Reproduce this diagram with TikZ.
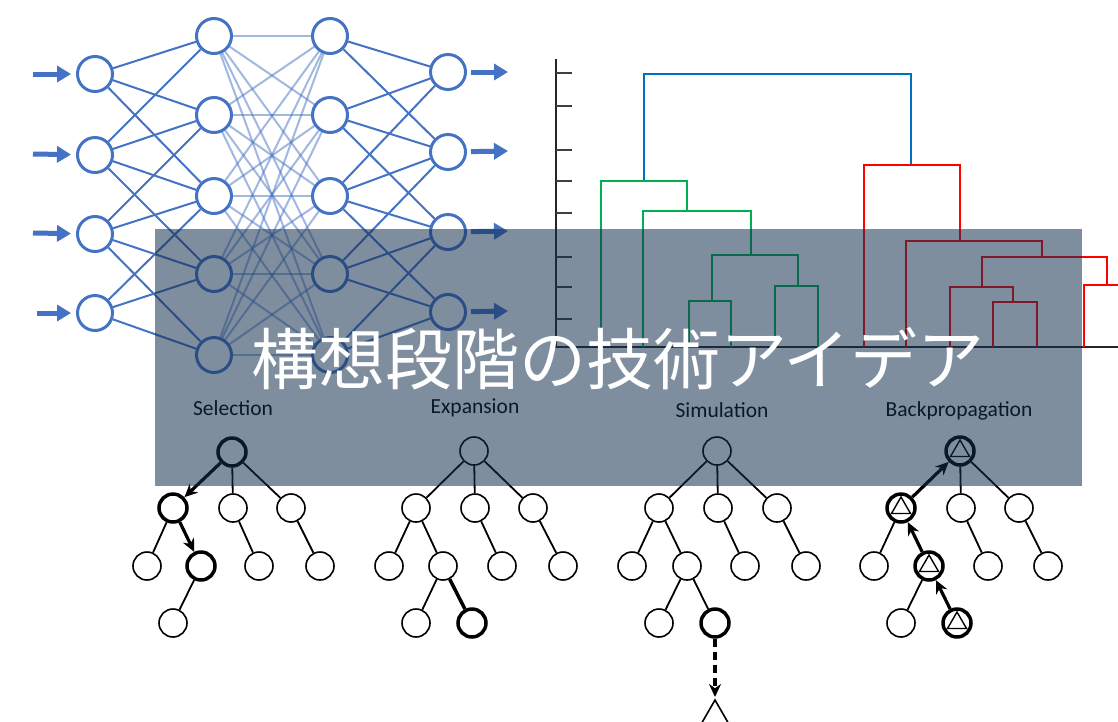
\documentclass[tikz,border=0pt]{standalone}
\usepackage{fontspec}
\setmainfont{Carlito}
\newfontfamily\cjk{Noto Sans CJK JP}
\usetikzlibrary{arrows.meta,shapes.geometric}
\definecolor{nnblue}{RGB}{68,114,196}
\definecolor{dblue}{RGB}{0,112,192}
\definecolor{dgreen}{RGB}{0,176,80}
\definecolor{dred}{RGB}{255,0,0}
\definecolor{ovl}{RGB}{19,47,78}
\tikzset{
  nn/.style={circle,draw=nnblue,line width=3pt,fill=white,minimum size=35pt,inner sep=0pt},
  nnedge/.style={draw=nnblue,line width=2pt},
  nnlight/.style={draw=nnblue,draw opacity=0.5,line width=2pt},
  ioarrow/.style={draw=nnblue,line width=5pt,-{Triangle[length=14pt,width=16pt]}},
  dline/.style={line width=2pt,line join=miter},
  tnode/.style={circle,draw=black,line width=1.6pt,fill=white,minimum size=28pt,inner sep=0pt},
  tbold/.style={tnode,line width=3.5pt},
  tedge/.style={draw=black,line width=1.8pt},
  tboldedge/.style={draw=black,line width=3.5pt},
  tarrow/.style={draw=black,line width=3.2pt,-{Stealth[length=13pt,width=12pt]}},
  tri/.style={regular polygon,regular polygon sides=3,draw=black,line width=1.4pt,minimum size=22pt,inner sep=0pt},
  lab/.style={font=\fontsize{21.5}{26}\selectfont,anchor=base,text=black},
}
\begin{document}
\begin{tikzpicture}[x=1pt,y=-1pt]
\useasboundingbox (0,0) rectangle (1118,721);
\clip (0,0) rectangle (1118,721);
\fill[white] (0,0) rectangle (1118,721);

% ---------------- neural network ----------------
\foreach \k/\y in {1/74,2/155,3/234,4/313} \node[nn] (i\k) at (95,\y) {};
\foreach \k/\y in {1/36,2/115,3/196,4/274,5/355} \node[nn] (h\k) at (214,\y) {};
\foreach \k/\y in {1/36,2/115,3/196,4/274,5/355} \node[nn] (g\k) at (330,\y) {};
\foreach \k/\y in {1/72,2/152,3/232,4/312} \node[nn] (o\k) at (448,\y) {};

\foreach \a/\b in {1/1,1/2,1/3,2/1,2/2,2/3,2/4,3/2,3/3,3/4,3/5,4/3,4/4,4/5}
  \draw[nnedge] (i\a) -- (h\b);
\foreach \a in {1,...,5}
  \foreach \b in {1,...,5}
    \draw[nnlight] (h\a) -- (g\b);
\foreach \a/\b in {1/1,1/2,1/3,2/1,2/2,2/3,2/4,3/2,3/3,3/4,3/5,4/3,4/4,4/5}
  \draw[nnedge] (o\a) -- (g\b);

\foreach \k/\y/\x in {1/74/33,2/154/33,3/233/33,4/313/37} {
  \coordinate (ia\k) at (\x,\y);
  \draw[ioarrow,shorten >=5pt] (ia\k) -- (i\k);
}
\foreach \k/\y in {1/72,2/151,3/231,4/311} {
  \coordinate (oa\k) at (508,\y);
  \draw[ioarrow,shorten <=4pt] (o\k) -- (oa\k);
}

% ---------------- dendrogram ----------------
\draw[black!85,line width=1.6pt] (556,59) -- (556,347) -- (1118,347);
\foreach \y in {73,106,150,181,213,257,287,319}
  \draw[black!75,line width=2pt] (556,\y) -- (572,\y);
\draw[dline,dblue] (644,181) -- (644,74) -- (911,74) -- (911,165);
\draw[dline,dgreen] (601,347) -- (601,181) -- (687,181) -- (687,211);
\draw[dline,dgreen] (643,347) -- (643,211) -- (751,211) -- (751,255);
\draw[dline,dgreen] (712,301) -- (712,255) -- (798,255) -- (798,286);
\draw[dline,dgreen] (689,347) -- (689,301) -- (731,301) -- (731,347);
\draw[dline,dgreen] (775,347) -- (775,286) -- (818,286) -- (818,347);
\draw[dline,dred] (864,347) -- (864,165) -- (960,165) -- (960,241);
\draw[dline,dred] (906,347) -- (906,241) -- (1042,241) -- (1042,257);
\draw[dline,dred] (982,287) -- (982,257) -- (1107,257) -- (1107,285);
\draw[dline,dred] (950,347) -- (950,287) -- (1013,287) -- (1013,302);
\draw[dline,dred] (993,347) -- (993,302) -- (1037,302) -- (1037,347);
\draw[dline,dred] (1084,347) -- (1084,285) -- (1125,285);

% ---------------- MCTS: Selection ----------------
\node[lab] (lsel) at (233,415) {Selection};
\node[tbold] (s0) at (232,452) {};
\node[tbold] (s1a) at (173,508) {};
\node[tnode] (s1b) at (233,508) {};
\node[tnode] (s1c) at (291,508) {};
\node[tnode] (s2a) at (147,566) {};
\node[tbold] (s2b) at (201,566) {};
\node[tnode] (s2c) at (259,566) {};
\node[tnode] (s2d) at (320,566) {};
\node[tnode] (s3a) at (173,623) {};
\draw[tarrow] (s0) -- (s1a);
\draw[tedge] (s0) -- (s1b);
\draw[tedge] (s0) -- (s1c);
\draw[tedge] (s1a) -- (s2a);
\draw[tarrow] (s1a) -- (s2b);
\draw[tedge] (s1b) -- (s2c);
\draw[tedge] (s1c) -- (s2d);
\draw[tedge] (s2b) -- (s3a);

% ---------------- MCTS: Expansion ----------------
\node[lab] (lexp) at (475,413) {Expansion};
\node[tnode] (e0) at (474,451) {};
\node[tnode] (e1a) at (416,508) {};
\node[tnode] (e1b) at (475,508) {};
\node[tnode] (e1c) at (533,508) {};
\node[tnode] (e2a) at (389,566) {};
\node[tnode] (e2b) at (443,566) {};
\node[tnode] (e2c) at (502,566) {};
\node[tnode] (e2d) at (563,566) {};
\node[tnode] (e3a) at (416,623) {};
\node[tbold] (e3b) at (472,623) {};
\draw[tedge] (e0) -- (e1a);
\draw[tedge] (e0) -- (e1b);
\draw[tedge] (e0) -- (e1c);
\draw[tedge] (e1a) -- (e2a);
\draw[tedge] (e1a) -- (e2b);
\draw[tedge] (e1b) -- (e2c);
\draw[tedge] (e1c) -- (e2d);
\draw[tedge] (e2b) -- (e3a);
\draw[tboldedge] (e2b) -- (e3b);

% ---------------- MCTS: Simulation ----------------
\node[lab] (lsim) at (722,417) {Simulation};
\node[tnode] (m0) at (717,451) {};
\node[tnode] (m1a) at (659,508) {};
\node[tnode] (m1b) at (718,508) {};
\node[tnode] (m1c) at (777,508) {};
\node[tnode] (m2a) at (632,566) {};
\node[tnode] (m2b) at (687,566) {};
\node[tnode] (m2c) at (745,566) {};
\node[tnode] (m2d) at (806,566) {};
\node[tnode] (m3a) at (659,623) {};
\node[tbold] (m3b) at (715,623) {};
\draw[tedge] (m0) -- (m1a);
\draw[tedge] (m0) -- (m1b);
\draw[tedge] (m0) -- (m1c);
\draw[tedge] (m1a) -- (m2a);
\draw[tedge] (m1a) -- (m2b);
\draw[tedge] (m1b) -- (m2c);
\draw[tedge] (m1c) -- (m2d);
\draw[tedge] (m2b) -- (m3a);
\draw[tedge] (m2b) -- (m3b);
\node[regular polygon,regular polygon sides=3,draw=black,line width=1.6pt,minimum size=40pt,inner sep=0pt] (mt) at (715,720) {};
\coordinate (mend) at (715,697);
\draw[tarrow,dash pattern=on 8pt off 5pt] (m3b) -- (mend);

% ---------------- MCTS: Backpropagation ----------------
\node[lab] (lbp) at (959,416) {Backpropagation};
\node[tbold] (b0) at (960,451) {};
\node[tbold] (b1a) at (901,508) {};
\node[tnode] (b1b) at (961,508) {};
\node[tnode] (b1c) at (1019,508) {};
\node[tnode] (b2a) at (874,566) {};
\node[tbold] (b2b) at (929,566) {};
\node[tnode] (b2c) at (988,566) {};
\node[tnode] (b2d) at (1048,566) {};
\node[tnode] (b3a) at (901,623) {};
\node[tbold] (b3b) at (957,623) {};
\foreach \n in {b0,b1a,b2b,b3b} \node[tri] (t\n) at (\n) {};
\draw[tarrow] (b1a) -- (b0);
\draw[tedge] (b0) -- (b1b);
\draw[tedge] (b0) -- (b1c);
\draw[tedge] (b1a) -- (b2a);
\draw[tarrow] (b2b) -- (b1a);
\draw[tedge] (b1b) -- (b2c);
\draw[tedge] (b1c) -- (b2d);
\draw[tedge] (b2b) -- (b3a);
\draw[tarrow] (b3b) -- (b2b);

% ---------------- overlay and title ----------------
\fill[ovl,fill opacity=0.54] (155,229) rectangle (1082,486);
\node[text=white,font=\cjk\fontsize{67}{80}\selectfont,anchor=base] (title) at (618,384) {構想段階の技術アイデア};
\end{tikzpicture}
\end{document}
